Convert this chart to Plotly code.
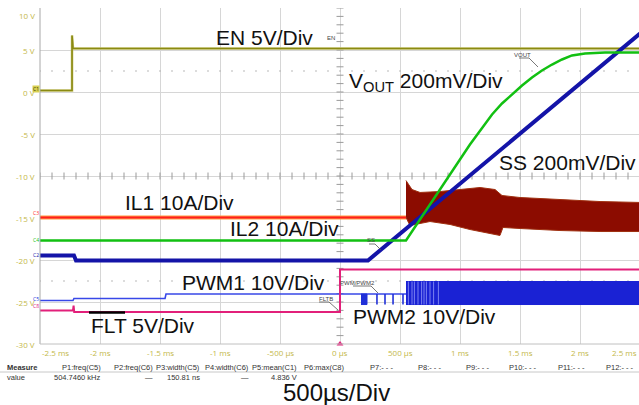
import plotly.graph_objects as go

# ---------------- data (time in ms, value in screen volts) ----------------
en_t = [-2.5, -2.233, -2.233, -2.225, 2.5]
en_v = [0.18, 0.18, 6.73, 5.18, 5.18]

vout_t = [-2.5, 0.55, 1.083, 1.183, 1.267, 1.35, 1.433, 1.517, 1.6, 1.683, 1.767,
          1.85, 1.933, 2.042, 2.208, 2.5]
vout_v = [-17.68, -17.68, -6.25, -4.23, -2.68, -1.37, -0.30, 0.77, 1.73, 2.56, 3.27,
          3.87, 4.35, 4.58, 4.70, 4.70]

ss_t = [-2.5, -2.217, -2.2, 0.233, 2.5]
ss_v = [-19.46, -19.46, -20.06, -20.06, 6.96]

il1_t = [-2.5, 0.55]
il1_v = [-14.94, -14.94]

il2_hi_t = [0.55, 0.6, 0.667, 0.833, 1.0, 1.167, 1.292, 1.35, 1.5, 1.833, 2.167, 2.5]
il2_hi_v = [-10.54, -11.61, -11.96, -11.85, -11.61, -11.37, -11.61, -12.32, -12.56, -12.80, -13.04, -13.15]
il2_lo_t = [0.55, 0.583, 0.75, 0.917, 1.083, 1.25, 1.333, 1.358, 1.5, 1.833, 2.167, 2.5]
il2_lo_v = [-14.94, -15.89, -15.42, -15.77, -16.37, -16.85, -17.08, -16.13, -16.25, -16.49, -16.61, -16.61]

pwm1_t = [-2.5, -2.225, -2.217, -1.458, -1.45, 0.55]
pwm1_v = [-24.82, -24.82, -24.58, -24.58, -24.05, -24.05]

pwm_burst_t = [0.175, 0.225]
pwm_pulse_t = [0.308, 0.375, 0.442, 0.525]
pwm_high = -24.05
pwm_low = -25.30
pwm_band_t = [0.55, 2.5]
pwm_band_hi = -22.56
pwm_band_lo = -25.30
pwm_stripe_t = [0.57, 0.6, 0.62, 0.65, 0.68, 0.7, 0.72, 0.75, 0.78, 0.82]

flt_t = [-2.5, -2.225, -2.22, -2.215, 0.0, 0.0, 2.5]
flt_v = [-26.01, -26.01, -25.42, -26.19, -26.19, -21.13, -21.13]

x_tick_vals = [-2.5, -2.0, -1.5, -1.0, -0.5, 0.0, 0.5, 1.0, 1.5, 2.0, 2.5]
x_tick_text = ["-2.5 ms", "-2 ms", "-1.5 ms", "-1 ms", "-500 µs", "0 µs",
               "500 µs", "1 ms", "1.5 ms", "2 ms", "2.5 ms"]
y_tick_vals = [10, 5, 0, -5, -10, -15, -20, -25, -30]
y_tick_text = ["10 V", "5 V", "0 V", "-5 V", "-10 V", "-15 V", "-20 V", "-25 V", "-30 V"]

measure_heads = ["P1:freq(C5)", "P2:freq(C6)", "P3:width(C5)", "P4:width(C6)",
                 "P5:mean(C1)", "P6:max(C8)", "P7:- - -", "P8:- - -", "P9:- - -",
                 "P10:- - -", "P11:- - -", "P12:- - -"]
measure_vals = ["504.7460 kHz", "—", "150.81 ns", "—", "4.836 V", "", "", "", "", "", "", ""]

# ---------------- layout geometry ----------------
W, H = 639, 405
L, T, B = 40, 8, 344          # plot area in pixels
PW, PH = W - L, B - T


def px(x):
    return (x - L) / PW


def py(y):
    return (B - y) / PH


EN_C = "#8a8a12"
VOUT_C = "#12c012"
SS_C = "#1414a8"
IL1_C = "#ff1e1e"
IL2_C = "#8c0c00"
PWM_C = "#2030d8"
FLT_C = "#e2207a"
TICK_C = "#c4b84a"

fig = go.Figure()

# dotted half-division rows
dot_x = [round(-2.5 + 0.1 * i, 2) for i in range(51)]
for yv in (2.5, -22.5):
    fig.add_trace(go.Scatter(x=dot_x, y=[yv] * len(dot_x), mode="markers",
                             marker=dict(size=1.6, color="#b0b0b0"), hoverinfo="skip"))
# center-line ticks
fig.add_trace(go.Scatter(x=dot_x, y=[-10] * len(dot_x), mode="markers",
                         marker=dict(symbol="line-ns", size=5, line=dict(width=1, color="#9a9a9a")),
                         hoverinfo="skip"))
tick_y = list(range(-30, 11))
fig.add_trace(go.Scatter(x=[0] * len(tick_y), y=tick_y, mode="markers",
                         marker=dict(symbol="line-ew", size=5, line=dict(width=1, color="#9a9a9a")),
                         hoverinfo="skip"))

# EN
fig.add_trace(go.Scatter(x=en_t, y=en_v, mode="lines", line=dict(color="#cfcb80", width=2.6)))
fig.add_trace(go.Scatter(x=en_t, y=en_v, mode="lines", line=dict(color=EN_C, width=1.6)))

# IL2 band
fig.add_trace(go.Scatter(x=il2_hi_t + il2_lo_t[::-1], y=il2_hi_v + il2_lo_v[::-1],
                         mode="lines", fill="toself", fillcolor=IL2_C,
                         line=dict(color="#a03010", width=1)))

# IL1
fig.add_trace(go.Scatter(x=il1_t, y=il1_v, mode="lines", line=dict(color="#ff9a40", width=4)))
fig.add_trace(go.Scatter(x=il1_t, y=il1_v, mode="lines", line=dict(color=IL1_C, width=2)))

# PWM1 / PWM2
fig.add_trace(go.Scatter(x=pwm1_t, y=pwm1_v, mode="lines", line=dict(color="#3848e8", width=1.6)))
fig.add_trace(go.Scatter(x=[pwm_burst_t[0], pwm_burst_t[1], pwm_burst_t[1], pwm_burst_t[0]],
                         y=[pwm_high, pwm_high, pwm_low, pwm_low], mode="lines", fill="toself",
                         fillcolor=PWM_C, line=dict(color=PWM_C, width=1)))
px_list, py_list = [], []
for tp in pwm_pulse_t:
    px_list += [tp, tp, None]
    py_list += [pwm_high, pwm_low, None]
fig.add_trace(go.Scatter(x=px_list, y=py_list, mode="lines", line=dict(color=PWM_C, width=1.6)))
fig.add_trace(go.Scatter(x=[pwm_band_t[0], pwm_band_t[1], pwm_band_t[1], pwm_band_t[0]],
                         y=[pwm_band_hi, pwm_band_hi, pwm_band_lo, pwm_band_lo], mode="lines",
                         fill="toself", fillcolor="#1a22d4", line=dict(color="#1a22d4", width=1)))
sx, sy = [], []
for tp in pwm_stripe_t:
    sx += [tp, tp, None]
    sy += [pwm_band_hi, pwm_band_lo, None]
fig.add_trace(go.Scatter(x=sx, y=sy, mode="lines", line=dict(color="#7a80f0", width=1)))

# FLT
fig.add_trace(go.Scatter(x=flt_t, y=flt_v, mode="lines", line=dict(color=FLT_C, width=2)))

# SS
fig.add_trace(go.Scatter(x=ss_t, y=ss_v, mode="lines", line=dict(color=SS_C, width=4)))

# VOUT
fig.add_trace(go.Scatter(x=vout_t, y=vout_v, mode="lines", line=dict(color=VOUT_C, width=2.5)))

# zero-time marker
fig.add_trace(go.Scatter(x=[0], y=[-30], mode="markers", cliponaxis=False,
                         marker=dict(symbol="triangle-up", size=6, color=FLT_C)))

annotations = []
shapes = []

# y tick labels
for v, tx in zip(y_tick_vals, y_tick_text):
    annotations.append(dict(x=px(37), y=v, xref="paper", yref="y", text=tx, showarrow=False,
                            xanchor="right", yanchor="top" if v == 10 else "middle",
                            font=dict(size=8, color=TICK_C)))
# x tick labels
for v, tx in zip(x_tick_vals, x_tick_text):
    xa = "left" if v == -2.5 else ("right" if v == 2.5 else "center")
    xv = v if v != 2.5 else 2.49
    annotations.append(dict(x=xv, y=py(352), xref="x", yref="paper", text=tx, showarrow=False,
                            xanchor=xa, yanchor="middle", font=dict(size=8, color=TICK_C)))

# big channel labels
BIG = dict(size=21, color="#111111", family="Liberation Sans, Arial, sans-serif")
big_labels = [
    ("EN 5V/Div", 214, 37),
    ("V<sub>OUT</sub> 200mV/Div", 347, 82),
    ("SS 200mV/Div", 497, 162),
    ("IL1 10A/Div", 123, 203),
    ("IL2 10A/Div", 228, 228),
    ("PWM1 10V/Div", 180, 282),
    ("PWM2 10V/Div", 351, 316),
    ("FLT 5V/Div", 89, 325),
]
for tx, x0, y0 in big_labels:
    annotations.append(dict(x=px(x0), y=py(y0), xref="paper", yref="paper", text=tx,
                            showarrow=False, xanchor="left", yanchor="middle", font=BIG))
annotations.append(dict(x=px(336), y=py(392), xref="paper", yref="paper", text="500µs/Div",
                        showarrow=False, xanchor="center", yanchor="middle",
                        font=dict(size=24, color="#111111",
                                  family="Liberation Sans, Arial, sans-serif")))

# small leader labels
SMALL = dict(size=6, color="#444444", family="Liberation Sans, Arial, sans-serif")
small = [("EN", 331, 38, None), ("VOUT", 522, 55, (529, 58, 538, 67)),
         ("SS", 371, 240, (375, 244, 381, 250)),
         ("PWM/PWM2", 357, 283, (371, 286, 378, 293)),
         ("FLTB", 326, 299, (329, 302, 338, 310))]
for tx, x0, y0, ld in small:
    annotations.append(dict(x=px(x0), y=py(y0), xref="paper", yref="paper", text=tx,
                            showarrow=False, xanchor="center", yanchor="middle", font=SMALL))
    if ld:
        shapes.append(dict(type="line", xref="paper", yref="paper",
                           x0=px(ld[0] - 2 * len(tx) - 2), y0=py(ld[1]), x1=px(ld[0]), y1=py(ld[1]),
                           line=dict(color="#555555", width=0.8)))
        shapes.append(dict(type="line", xref="paper", yref="paper",
                           x0=px(ld[0]), y0=py(ld[1]), x1=px(ld[2]), y1=py(ld[3]),
                           line=dict(color="#555555", width=0.8)))

# channel markers on left edge
markers = [("C1", 89, EN_C, "#d8d050"), ("C3", 213, IL1_C, None), ("C4", 240, VOUT_C, None),
           ("C2", 255, SS_C, None), ("C5", 299, PWM_C, None), ("C8", 306, FLT_C, None)]
for tx, y0, col, bg in markers:
    annotations.append(dict(x=px(36), y=py(y0), xref="paper", yref="paper", text=tx,
                            showarrow=False, xanchor="center", yanchor="middle",
                            font=dict(size=5, color=col if bg is None else "#333300"),
                            bgcolor=bg, borderpad=0))

# black bar under FLT label
shapes.append(dict(type="line", xref="paper", yref="paper", x0=px(89), x1=px(125),
                   y0=py(312.5), y1=py(312.5), line=dict(color="#000000", width=2.5)))

# measurement table
TBL = dict(size=7.5, color="#333333", family="Liberation Sans, Arial, sans-serif")
annotations.append(dict(x=px(5), y=py(367), xref="paper", yref="paper", text="<b>Measure</b>",
                        showarrow=False, xanchor="left", yanchor="middle", font=TBL))
annotations.append(dict(x=px(5), y=py(377), xref="paper", yref="paper", text="value",
                        showarrow=False, xanchor="left", yanchor="middle", font=TBL))
col_right = [103, 155, 202, 251, 299, 347, 395, 443, 491, 539, 587, 636]
for hd, vl, xr in zip(measure_heads, measure_vals, col_right):
    annotations.append(dict(x=px(xr), y=py(367), xref="paper", yref="paper", text=hd,
                            showarrow=False, xanchor="right", yanchor="middle", font=TBL))
    if vl:
        annotations.append(dict(x=px(xr), y=py(377), xref="paper", yref="paper", text=vl,
                                showarrow=False, xanchor="right", yanchor="middle", font=TBL))
shapes.append(dict(type="line", xref="paper", yref="paper", x0=px(0), x1=px(639),
                   y0=py(372), y1=py(372), line=dict(color="#c8c8c8", width=1)))

# frame lines
shapes.append(dict(type="line", xref="paper", yref="paper", x0=0, x1=0, y0=0, y1=1,
                   line=dict(color="#a8a8a8", width=1)))
shapes.append(dict(type="line", xref="paper", yref="paper", x0=0, x1=1, y0=0, y1=0,
                   line=dict(color="#c0c0c0", width=1)))

fig.update_layout(
    width=W, height=H, showlegend=False,
    margin=dict(l=L, r=0, t=T, b=H - B, pad=0),
    paper_bgcolor="white", plot_bgcolor="white",
    xaxis=dict(range=[-2.5, -2.5 + PW / 120.0],
               dtick=0.5, tick0=-2.5, showgrid=True, gridcolor="#d6d6d6", gridwidth=1,
               zeroline=False, showticklabels=False, ticks="", showline=False),
    yaxis=dict(range=[-30, 10], dtick=5, tick0=-30, showgrid=True, gridcolor="#d6d6d6",
               gridwidth=1, zeroline=False, showticklabels=False, ticks="", showline=False),
    annotations=annotations, shapes=shapes,
)

fig.write_html("out.html", config={"displayModeBar": False},
               post_script="document.body.style.margin='0px';document.body.style.overflow='hidden';")
